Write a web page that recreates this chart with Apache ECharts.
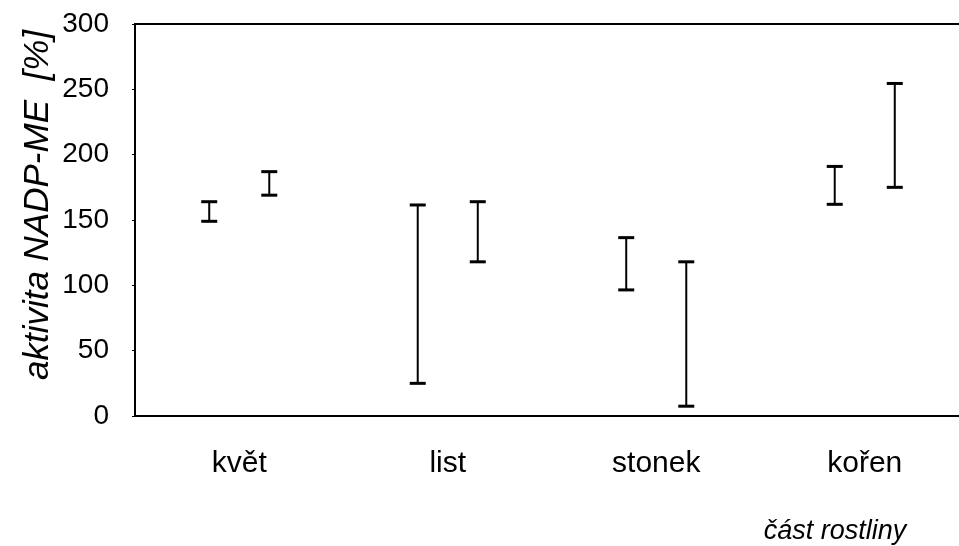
<!DOCTYPE html>
<html>
<head>
<meta charset="utf-8">
<script src="https://cdn.jsdelivr.net/npm/echarts@6/dist/echarts.min.js"></script>
<style>
  html, body { margin: 0; padding: 0; background: #fff; overflow: hidden; }
  /* The plot frame runs past the right edge of the window, so its right side stays out of view */
  #chart { width: 990px; height: 546px; }
</style>
</head>
<body>
<div id="chart"></div>
<script>
// Plant parts on the category axis
const categories = ['květ', 'list', 'stonek', 'kořen'];

// Range (low / high) of NADP-ME activity [%] for the two sample groups
const groupALow  = [149, 25, 96.5, 162];
const groupAHigh = [164, 161.5, 136.5, 191];
const groupBLow  = [169, 118, 7.5, 175];
const groupBHigh = [187, 164, 118, 254.5];

// Value axis ticks
const yTicks = [0, 50, 100, 150, 200, 250, 300];

const FONT = 'Liberation Sans, Arial, sans-serif';

function rangeData(low, high) {
  return categories.map((c, i) => [i, low[i], high[i]]);
}

// Draws one vertical range bar with end caps, shifted left or right of the category centre
function makeRangeRenderer(side) {
  return function (params, api) {
    const idx = api.value(0);
    const lo = api.coord([idx, api.value(1)]);
    const hi = api.coord([idx, api.value(2)]);
    const band = api.size([1, 0])[0];
    const x = lo[0] + side * band * 0.144;
    const cap = 8;
    return {
      type: 'group',
      children: [
        { type: 'line', shape: { x1: x, y1: hi[1], x2: x, y2: lo[1] },
          style: { stroke: '#000', lineWidth: 2 } },
        { type: 'line', shape: { x1: x - cap, y1: hi[1], x2: x + cap, y2: hi[1] },
          style: { stroke: '#000', lineWidth: 3 } },
        { type: 'line', shape: { x1: x - cap, y1: lo[1], x2: x + cap, y2: lo[1] },
          style: { stroke: '#000', lineWidth: 3 } }
      ]
    };
  };
}

const chart = echarts.init(document.getElementById('chart'), null, { renderer: 'canvas' });

chart.setOption({
  animation: false,
  backgroundColor: '#fff',
  grid: {
    left: 135, top: 24, width: 834, height: 392,
    show: true, borderColor: '#000', borderWidth: 2, backgroundColor: 'transparent'
  },
  xAxis: {
    type: 'category',
    data: categories,
    boundaryGap: true,
    axisLine: { show: true, lineStyle: { color: '#000', width: 2 } },
    axisTick: { show: false },
    axisLabel: { color: '#000', fontFamily: FONT, fontSize: 30, margin: 33 },
    splitLine: { show: false }
  },
  yAxis: {
    type: 'value',
    min: yTicks[0],
    max: yTicks[yTicks.length - 1],
    interval: yTicks[1] - yTicks[0],
    axisLine: { show: true, lineStyle: { color: '#000', width: 2 } },
    axisTick: { show: true, length: 3, lineStyle: { color: '#000', width: 1 } },
    axisLabel: { color: '#000', fontFamily: FONT, fontSize: 28, margin: 26 },
    splitLine: { show: false }
  },
  graphic: [
    {
      type: 'text',
      x: 38, y: 205,
      rotation: Math.PI / 2,
      style: {
        text: 'aktivita NADP-ME  [%]',
        fontFamily: FONT, fontSize: 35, fontStyle: 'italic',
        fill: '#000', align: 'center', verticalAlign: 'middle'
      }
    },
    {
      type: 'text',
      x: 835, y: 531,
      style: {
        text: 'část rostliny',
        fontFamily: FONT, fontSize: 27, fontStyle: 'italic',
        fill: '#000', align: 'center', verticalAlign: 'middle'
      }
    }
  ],
  series: [
    {
      name: 'A',
      type: 'custom',
      renderItem: makeRangeRenderer(-1),
      encode: { x: 0, y: [1, 2] },
      data: rangeData(groupALow, groupAHigh),
      clip: false
    },
    {
      name: 'B',
      type: 'custom',
      renderItem: makeRangeRenderer(1),
      encode: { x: 0, y: [1, 2] },
      data: rangeData(groupBLow, groupBHigh),
      clip: false
    }
  ]
});
</script>
</body>
</html>
